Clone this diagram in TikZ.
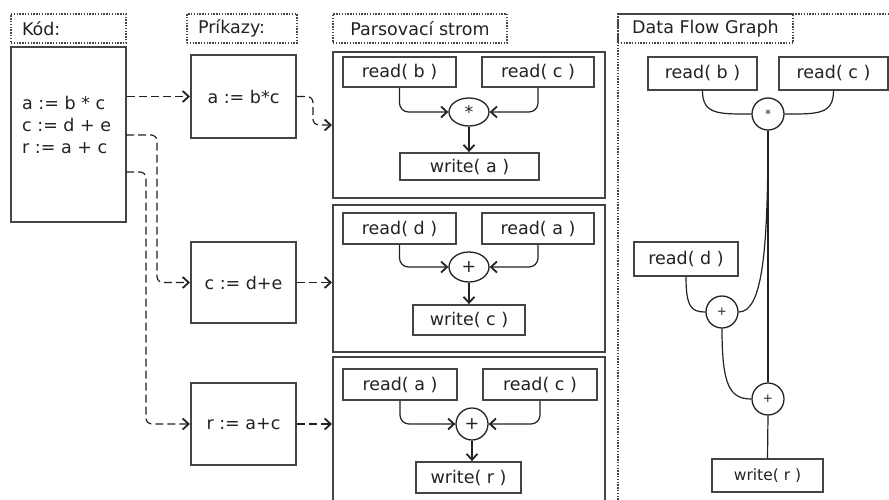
\documentclass[tikz,border=0pt]{standalone}
\usepackage{fontspec}
\setmainfont{DejaVu Sans}
\usetikzlibrary{arrows.meta,shapes.geometric,calc}
\definecolor{edge}{HTML}{444444}
\definecolor{ink}{HTML}{222222}
\begin{document}
\begin{tikzpicture}[x=1pt,y=-1pt,
  every node/.style={font=\fontsize{17.5}{22}\selectfont, text=ink},
  titlebox/.style={draw=edge, line width=1.4pt, dash pattern=on 1.4pt off 1.4pt,
    inner sep=0pt, minimum height=29pt},
  frame/.style={draw=edge, line width=2pt, inner sep=0pt},
  leaf/.style={draw=edge, line width=1.8pt, inner sep=0pt},
  opnode/.style={draw=ink, line width=1.3pt, ellipse, inner sep=0pt},
  dfop/.style={draw=ink, line width=1.3pt, circle, inner sep=0pt, minimum size=32pt,
    font=\fontsize{12}{14}\selectfont},
  arr/.style={draw=ink, line width=1.2pt,
    -{Straight Barb[length=6pt,width=11pt,line width=1.8pt]}},
  dasharr/.style={arr, dash pattern=on 8pt off 4pt, rounded corners=6pt},
  treearr/.style={arr, rounded corners=9pt},
  flow/.style={draw=ink, line width=1.2pt},
]
\useasboundingbox (0,0) rectangle (889,499);
\clip (0,0) rectangle (889,499);

% ---- titles ----
\node[titlebox, minimum width=115pt, text width=93pt, align=left] (kodlbl) at (68.5,28.5) {Kód:};
\node[titlebox, minimum width=110pt, text width=88pt, align=left] (prilbl) at (242,28.5) {Príkazy:};
\node[titlebox, minimum width=174pt] (parlbl) at (420,28.5) {Parsovací strom};
\node[titlebox, minimum width=175pt] (dfglbl) at (705.5,28.5) {Data Flow Graph};
% outline of the data flow graph area
\draw[draw=edge, line width=1.4pt, dash pattern=on 1.4pt off 1.4pt] (618,14) rectangle (905,515);

% ---- source code ----
\node[frame, minimum width=115pt, minimum height=175pt] (kod) at (68.5,134.5) {};
\node[anchor=west, align=left, inner sep=0pt] (kodtxt) at (22,125)
  {a := b * c\\c := d + e\\r := a + c};

% ---- statements ----
\node[frame, minimum width=105pt, minimum height=83pt] (cmd1) at (243.5,96.5) {a := b*c};
\node[frame, minimum width=105pt, minimum height=81pt] (cmd2) at (243.5,282.5) {c := d+e};
\node[frame, minimum width=105pt, minimum height=82pt] (cmd3) at (243.5,424) {r := a+c};

\coordinate (k1) at (kod.east |- cmd1.west);
\coordinate (k2) at (126,135);
\coordinate (k3) at (126,172);
\draw[dasharr] (k1) -- (cmd1.west);
\draw[dasharr] (k2) -- ++(31,0) |- (cmd2.west);
\draw[dasharr] (k3) -- ++(20,0) |- (cmd3.west);

% ---- parse trees ----
\node[frame, minimum width=272pt, minimum height=146pt] (parse1) at (469,125) {};
\node[frame, minimum width=272pt, minimum height=147pt] (parse2) at (469,278.5) {};
\node[frame, minimum width=272pt, minimum height=160pt] (parse3) at (469,437) {};

\draw[dasharr] (cmd1.east) -- ++(16,0) |- (parse1.west);
\draw[dasharr] (cmd2.east) -- (parse2.west |- cmd2.east);
\draw[dasharr] (cmd3.east) -- (parse3.west |- cmd3.east);

% tree 1
\node[leaf, minimum width=113pt, minimum height=30pt] (p1rb) at (399.5,72) {read( b )};
\node[leaf, minimum width=112pt, minimum height=30pt] (p1rc) at (538,72) {read( c )};
\node[opnode, minimum width=40pt, minimum height=28pt] (p1op) at (469,112) {*};
\node[leaf, minimum width=139pt, minimum height=27pt] (p1w) at (469.5,166.5) {write( a )};
\draw[treearr] (p1rb.south) |- (p1op.west);
\draw[treearr] (p1rc.south) |- (p1op.east);
\draw[arr] (p1op.south) -- (p1op.south |- p1w.north);

% tree 2
\node[leaf, minimum width=113pt, minimum height=31pt] (p2rd) at (399.5,228.5) {read( d )};
\node[leaf, minimum width=112pt, minimum height=31pt] (p2ra) at (538,228.5) {read( a )};
\node[opnode, minimum width=40pt, minimum height=30pt] (p2op) at (469,267) {+};
\node[leaf, minimum width=112pt, minimum height=30pt] (p2w) at (469,320) {write( c )};
\draw[treearr] (p2rd.south) |- (p2op.west);
\draw[treearr] (p2ra.south) |- (p2op.east);
\draw[arr] (p2op.south) -- (p2op.south |- p2w.north);

% tree 3
\node[leaf, minimum width=114pt, minimum height=31pt] (p3ra) at (400,384.5) {read( a )};
\node[leaf, minimum width=114pt, minimum height=31pt] (p3rc) at (540,384.5) {read( c )};
\node[opnode, circle, minimum size=32pt] (p3op) at (472,424) {+};
\node[leaf, minimum width=105pt, minimum height=31pt] (p3w) at (468.5,477.5) {write( r )};
\draw[treearr] (p3ra.south) |- (p3op.west);
\draw[treearr] (p3rc.south) |- (p3op.east);
\draw[arr] (p3op.south) -- (p3op.south |- p3w.north);

% ---- data flow graph ----
\node[leaf, minimum width=109pt, minimum height=33pt] (drb) at (702.5,73.5) {read( b )};
\node[leaf, minimum width=109pt, minimum height=33pt] (drc) at (833.5,73.5) {read( c )};
\node[dfop] (dmul) at (768,114) {*};
\node[leaf, minimum width=104pt, minimum height=34pt] (drd) at (686,259) {read( d )};
\node[dfop] (dadd1) at (722,312) {+};
\node[dfop] (dadd2) at (768,399) {+};
\node[leaf, minimum width=111pt, minimum height=33pt, font=\fontsize{15.5}{18}\selectfont] (dwr) at (767.5,475.5) {write( r )};

\draw[flow] (drb.south) .. controls ($(drb.south)+(0,24)$) and ($(dmul.west)+(-32,0)$) .. (dmul.west);
\draw[flow] (drc.south) .. controls ($(drc.south)+(0,24)$) and ($(dmul.east)+(32,0)$) .. (dmul.east);
\draw[flow] (dmul.south) -- (dadd2.north);
\draw[flow] (dmul.south) .. controls ($(dmul.south)+(0,120)$) and ($(dadd1.east)+(24,0)$) .. (dadd1.east);
\draw[flow] (drd.south) .. controls ($(drd.south)+(0,30)$) and ($(dadd1.west)+(-14,0)$) .. (dadd1.west);
\draw[flow] (dadd1.south) .. controls ($(dadd1.south)+(0,56)$) and ($(dadd2.west)+(-22,0)$) .. (dadd2.west);
\draw[flow] (dadd2.south) -- (dwr.north);
\end{tikzpicture}
\end{document}
